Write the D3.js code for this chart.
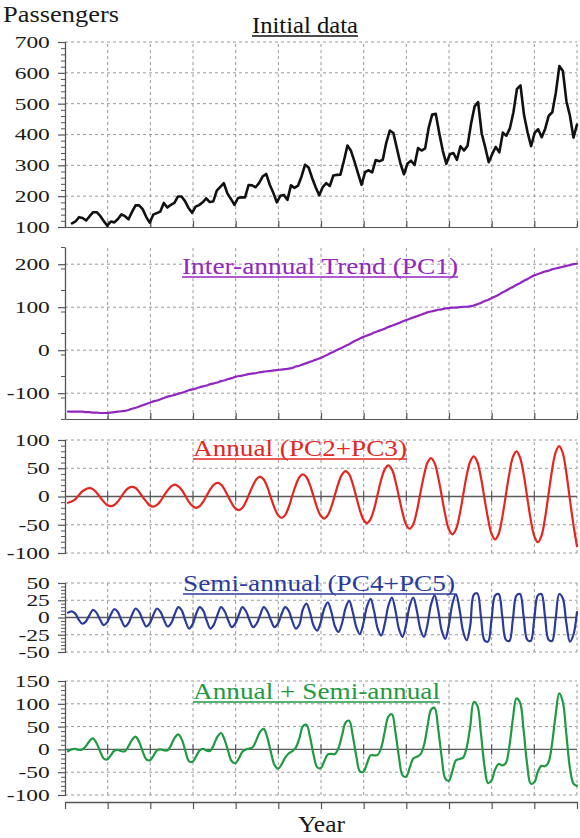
<!DOCTYPE html>
<html><head><meta charset="utf-8">
<script src="https://cdn.jsdelivr.net/npm/d3@7"></script>
<style>
body{margin:0;background:#fff;}
svg{display:block;}
svg text{font-family:"Liberation Serif","Times New Roman",Times,serif;}
</style></head><body>
<svg id="chart" width="580" height="838"></svg>
<script>
// Monthly international airline passengers (thousands), 1949-1960
const passengers = [
112,118,132,129,121,135,148,148,136,119,104,118,
115,126,141,135,125,149,170,170,158,133,114,140,
145,150,178,163,172,178,199,199,184,162,146,166,
171,180,193,181,183,218,230,242,209,191,172,194,
196,196,236,235,229,243,264,272,237,211,180,201,
204,188,235,227,234,264,302,293,259,229,203,229,
242,233,267,269,270,315,364,347,312,274,237,278,
284,277,317,313,318,374,413,405,355,306,271,306,
315,301,356,348,355,422,465,467,404,347,305,336,
340,318,362,348,363,435,491,505,404,359,310,337,
360,342,406,396,420,472,548,559,463,407,362,405,
417,391,419,461,472,535,622,606,508,461,390,432];

// Reconstructed components (SSA)
const trend = [
-143,-143,-143,-143,-143,-144,-144,-145,-145,-146,-146,-146,
-145,-144,-143,-142,-141,-139,-136,-134,-131,-128,-125,-122,
-119,-117,-114,-111,-108,-106,-104,-101,-99,-96,-93,-91,
-89,-86,-84,-82,-79,-77,-75,-72,-70,-67,-65,-62,
-60,-59,-57,-55,-54,-53,-51,-50,-49,-48,-47,-46,
-45,-44,-43,-41,-38,-36,-33,-30,-27,-24,-21,-18,
-14,-10,-6,-2,2,6,10,14,19,23,27,31,
34,37,41,44,47,50,54,57,60,63,67,70,
73,76,79,82,85,88,90,92,94,95,97,98,
99,99,100,101,101,102,104,107,110,114,117,121,
125,129,134,138,143,147,152,156,161,165,170,174,
177,180,183,185,188,190,192,194,196,198,200,201];

const annual = [
-11,-9,-5,2,9,13,15,13,7,-1,-9,-15,
-17,-15,-9,0,9,15,17,15,8,-1,-9,-16,
-18,-15,-8,2,11,18,21,18,11,1,-10,-17,
-20,-17,-9,2,13,21,24,21,12,0,-12,-21,
-24,-20,-9,6,20,31,35,30,17,-2,-20,-33,
-38,-33,-19,1,20,34,39,34,20,0,-20,-34,
-39,-33,-18,3,24,39,45,39,22,-1,-24,-41,
-47,-40,-22,4,30,48,55,48,27,-1,-29,-50,
-57,-49,-26,6,37,60,68,59,34,1,-33,-58,
-67,-58,-33,2,37,62,71,61,34,-3,-39,-66,
-76,-66,-37,2,41,70,80,69,40,-1,-41,-70,
-81,-70,-39,4,47,78,89,77,42,-5,-50,-88];

const semiAnnual = [
7,9,6,-3,-9,-6, 3,11,7,-3,-11,-7,
4,12,8,-4,-13,-8, 4,13,8,-4,-13,-8,
4,13,8,-4,-13,-8, 5,15,10,-5,-16,-10,
5,15,10,-5,-16,-10, 4,15,9,-4,-14,-9,
4,15,9,-4,-14,-9, 4,15,9,-4,-14,-9,
5,15,10,-5,-16,-10, 12,20,7,-12,-19,-7,
13,22,8,-13,-21,-8, 14,24,8,-14,-24,-8,
16,27,9,-16,-26,-9, 17,29,10,-17,-28,-10,
17,29,10,-17,-28,-10, 19,32,11,-19,-31,-11,
20,34,12,-20,-33,-12, 33,35,2,-33,-35,-2,
32,34,2,-32,-34,-2, 32,34,2,-32,-34,-2,
32,34,2,-32,-34,-2, 34,28,-8,-35,-25,8];

const combined = annual.map((v, i) => v + semiAnnual[i]);

// Tick labels per panel
const ticksData = [100,200,300,400,500,600,700];
const ticksTrend = [-100,0,100,200];
const ticksAnnual = [-100,-50,0,50,100];
const ticksSemi = [-50,-25,0,25,50];
const ticksSum = [-100,-50,0,50,100,150];

const titles = ["Initial data","Inter-annual Trend (PC1)","Annual (PC2+PC3)","Semi-annual (PC4+PC5)","Annual + Semi-annual"];
const colors = ["#111111","#9326c0","#e3261f","#2a3b9c","#1f9a42"];

const serif = "'Liberation Serif','Times New Roman',Times,serif";
const svg = d3.select("#chart");
const left = 65, right = 577;
const years = 12;
const xGrid = d3.scaleLinear().domain([0, years]).range([left, right]);
const xComp = d3.scaleLinear().domain([0, 143]).range([68, right]);
const xData = d3.scaleLinear().domain([0, 143]).range([72, right]);

const panels = [
  {values: passengers, x: xData, domain:[100,700], y0:227, y1:42, ticks:ticksData, minor:20,
   grid:[200,300,400,500,600,700], zero:false, base:"axis", curve:d3.curveLinear, width:2.6,
   title:{x0:252,x1:358,y:33}},
  {values: trend, x: xComp, domain:[-160,240], y0:419, y1:247, ticks:ticksTrend, minor:50,
   grid:[-100,0,100,200], zero:false, base:"axis", curve:d3.curveCatmullRom, width:2.2,
   title:{x0:182,x1:458,y:274}},
  {values: annual, x: xComp, domain:[-100,100], y0:553, y1:440, ticks:ticksAnnual, minor:10,
   grid:[-100,-50,50,100], zero:true, base:"none", curve:d3.curveCatmullRom, width:2.2,
   title:{x0:193,x1:407,y:456}},
  {values: semiAnnual, x: xComp, domain:[-50,50], y0:652, y1:583, ticks:ticksSemi, minor:5,
   grid:[-50,-25,25,50], zero:true, base:"none", curve:d3.curveCatmullRom, width:2.2,
   title:{x0:183,x1:455,y:591}},
  {values: combined, x: xComp, domain:[-100,150], y0:795, y1:681, ticks:ticksSum, minor:10,
   grid:[-100,-50,50,100,150], zero:true, base:"none", curve:d3.curveCatmullRom, width:2.2,
   title:{x0:193,x1:440,y:699}}
];

const gridColor = "#9a9a9a", axisColor = "#555";

panels.forEach((p, idx) => {
  const y = d3.scaleLinear().domain(p.domain).range([p.y0, p.y1]);
  const g = svg.append("g");

  // horizontal dashed grid
  g.selectAll("line.hg").data(p.grid).join("line")
    .attr("x1", left).attr("x2", right)
    .attr("y1", d => y(d)).attr("y2", d => y(d))
    .attr("stroke", gridColor).attr("stroke-width", 1).attr("stroke-dasharray", "3,3");

  // vertical dashed grid (one per year)
  g.selectAll("line.vg").data(d3.range(1, years + 1)).join("line")
    .attr("x1", d => xGrid(d)).attr("x2", d => xGrid(d))
    .attr("y1", p.y0).attr("y2", p.y1)
    .attr("stroke", gridColor).attr("stroke-width", 1).attr("stroke-dasharray", "3,3");

  // zero line with year ticks
  if (p.zero) {
    const zy = y(0);
    g.append("line").attr("x1", left).attr("x2", right).attr("y1", zy).attr("y2", zy)
      .attr("stroke", "#5a5a5a").attr("stroke-width", 1.4);
    g.selectAll("line.zt").data(d3.range(1, years)).join("line")
      .attr("x1", d => xGrid(d)).attr("x2", d => xGrid(d))
      .attr("y1", zy - 5).attr("y2", zy + 5)
      .attr("stroke", "#5a5a5a").attr("stroke-width", 1.2);
  }

  // bottom axis line with inward year ticks
  if (p.base === "axis") {
    const ax = g.append("g").attr("transform", `translate(0,${p.y0})`)
      .call(d3.axisTop(xGrid).tickValues(d3.range(0, years + 1)).tickFormat("").tickSize(6).tickSizeOuter(0));
    ax.select(".domain").attr("stroke", axisColor).attr("stroke-width", 1.2);
    ax.selectAll(".tick line").attr("stroke", axisColor).attr("stroke-width", 1.2);
  }

  // minor ticks
  const lo = Math.min(...p.domain), hi = Math.max(...p.domain);
  const minorVals = d3.range(lo, hi + 0.001, p.minor).filter(v => !p.ticks.includes(v));
  const mi = g.append("g").attr("transform", `translate(${left},0)`)
    .call(d3.axisLeft(y).tickValues(minorVals).tickFormat("").tickSize(4).tickSizeOuter(0));
  mi.select(".domain").remove();
  mi.selectAll(".tick line").attr("stroke", axisColor).attr("stroke-width", 1);

  // major ticks and labels (plain hyphen-minus)
  const ma = g.append("g").attr("transform", `translate(${left},0)`)
    .call(d3.axisLeft(y).tickValues(p.ticks).tickFormat(d => String(d)).tickSize(7).tickPadding(4).tickSizeOuter(0));
  ma.attr("font-family", serif);
  ma.select(".domain").attr("stroke", axisColor).attr("stroke-width", 1.3);
  ma.selectAll(".tick line").attr("stroke", axisColor).attr("stroke-width", 1.2).attr("x2", 1).attr("x1", -7);
  ma.selectAll(".tick text")
    .attr("font-family", serif)
    .attr("font-size", 17).attr("fill", "#1a1a1a")
    .attr("transform", "scale(1.38,1)");

  // series line
  const line = d3.line().x((d, i) => p.x(i)).y(d => y(d)).curve(p.curve);
  g.append("path").datum(p.values)
    .attr("d", line).attr("fill", "none")
    .attr("stroke", colors[idx]).attr("stroke-width", p.width)
    .attr("stroke-linejoin", "round").attr("stroke-linecap", "round");

  // underlined panel title
  const t = p.title;
  g.append("text").attr("x", t.x0).attr("y", t.y)
    .attr("font-family", serif)
    .attr("font-size", 23).attr("fill", colors[idx])
    .attr("textLength", t.x1 - t.x0).attr("lengthAdjust", "spacingAndGlyphs")
    .text(titles[idx]);
  g.append("line").attr("x1", t.x0).attr("x2", t.x1).attr("y1", t.y + 3).attr("y2", t.y + 3)
    .attr("stroke", colors[idx]).attr("stroke-width", 1.3);
});

// bottom time axis
const bx = svg.append("g").attr("transform", "translate(0,802)")
  .call(d3.axisBottom(xGrid).tickValues(d3.range(0, years + 1)).tickFormat("").tickSize(7).tickSizeOuter(0));
bx.select(".domain").attr("stroke", axisColor).attr("stroke-width", 1.3);
bx.selectAll(".tick line").attr("stroke", axisColor).attr("stroke-width", 1.2);

// axis titles
svg.append("text").attr("x", 3).attr("y", 22).attr("font-family", serif).attr("font-size", 23).attr("fill", "#1a1a1a")
  .attr("textLength", 116).attr("lengthAdjust", "spacingAndGlyphs").text("Passengers");
svg.append("text").attr("x", 298).attr("y", 832).attr("font-family", serif).attr("font-size", 23).attr("fill", "#1a1a1a")
  .attr("textLength", 47).attr("lengthAdjust", "spacingAndGlyphs").text("Year");
</script>
</body></html>
